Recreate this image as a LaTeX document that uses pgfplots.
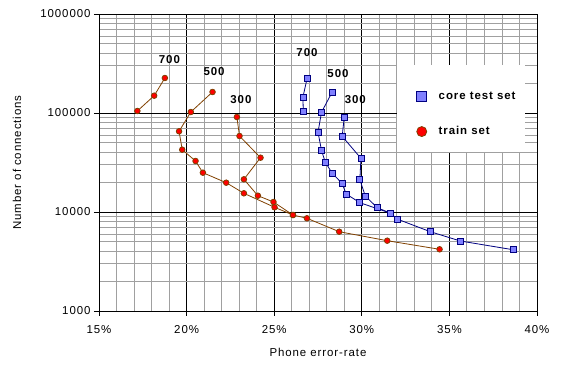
\documentclass[border=0pt]{standalone}
\usepackage{pgfplots}
\pgfplotsset{compat=1.18}
\usepackage{fontspec}
\setmainfont[LetterSpace=8]{Liberation Sans}
\definecolor{navyline}{RGB}{0,0,128}
\definecolor{bluefill}{RGB}{128,128,255}
\definecolor{brownline}{RGB}{128,64,0}
\definecolor{gridgray}{RGB}{160,160,160}
\begin{document}
\begin{tikzpicture}
\path[use as bounding box] (-99bp,-55bp) rectangle (462bp,311bp);
\begin{axis}[
 at={(0,0)}, anchor=south west,
 scale only axis, width=438bp, height=297bp,
 xmin=15, xmax=40, ymin=1000, ymax=1000000, ymode=log,
 xtick={15,20,25,30,35,40}, xticklabels={15\%,20\%,25\%,30\%,35\%,40\%},
 minor x tick num=4,
 ytick={1000,10000,100000,1000000}, yticklabels={1000,10000,100000,1000000},
 grid=both,
 major grid style={black, line width=0.8bp},
 minor grid style={gridgray, line width=0.9bp},
 axis line style={black, line width=0.8bp},
 tick align=outside, major tick length=5bp, minor tick length=0pt,
 tick style={black, line width=0.8bp},
 xtick pos=left, ytick pos=left,
 ticklabel style={font=\fontsize{11.5}{13}\selectfont},
 xticklabel style={yshift=-6bp},
 xlabel={Phone error-rate}, ylabel={Number of connections},
 label style={font=\fontsize{11.5}{13}\selectfont},
 xlabel style={at={(axis description cs:0.5,-0.138)}, anchor=center},
 ylabel style={at={(axis description cs:-0.187,0.5)}, anchor=center},
 legend style={at={(0.725,0.663)}, anchor=west, draw=none, fill=none, inner sep=0pt,
   font=\bfseries\fontsize{11.5}{13}\selectfont, row sep=22bp, column sep=10bp,
   cells={anchor=west}},
 legend image post style={mark size=5bp},
]
\fill[white] (rel axis cs:0.680,0.535) rectangle (rel axis cs:0.973,0.828);

\addlegendimage{only marks, mark=square*, mark options={fill=bluefill, draw=navyline, line width=0.8bp}}
\addlegendentry{core test set}
\addlegendimage{only marks, mark=*, mark options={fill=red, draw=brownline, line width=0.8bp}}
\addlegendentry{train set}

% train set
\addplot[forget plot, brownline, line width=0.8bp, mark=*, mark size=2.8bp,
  mark options={fill=red, draw=brownline, solid}] coordinates {
 (18.76,225700) (18.15,149600) (17.19,104800)};
\addplot[forget plot, brownline, line width=0.8bp, mark=*, mark size=2.8bp,
  mark options={fill=red, draw=brownline, solid}] coordinates {
 (21.48,163000) (20.24,102300) (19.57,65350) (19.75,42600) (20.51,32750)
 (20.93,24950) (22.26,19770) (23.27,15450) (25.02,11160) (26.07,9326)};
\addplot[forget plot, brownline, line width=0.8bp, mark=*, mark size=2.8bp,
  mark options={fill=red, draw=brownline, solid}] coordinates {
 (22.87,91100) (23.02,58560) (24.22,35360) (23.27,21390) (24.07,14610)
 (24.96,12620) (26.07,9326) (26.87,8640) (28.71,6324) (31.45,5130) (34.44,4200)};

% core test set
\addplot[forget plot, navyline, line width=0.8bp, mark=square*, mark size=3bp,
  mark options={fill=bluefill, draw=navyline, solid}] coordinates {
 (26.88,224100) (26.64,145000) (26.66,103100)};
\addplot[forget plot, navyline, line width=0.8bp, mark=square*, mark size=3bp,
  mark options={fill=bluefill, draw=navyline, solid}] coordinates {
 (28.30,161900) (27.70,101600) (27.50,63850) (27.70,42010) (27.91,32000)
 (28.30,24770) (28.87,19490) (29.11,15200) (29.89,12410) (31.66,9703)};
\addplot[forget plot, navyline, line width=0.8bp, mark=square*, mark size=3bp,
  mark options={fill=bluefill, draw=navyline, solid}] coordinates {
 (29.00,90500) (28.88,58150) (29.95,34860) (29.89,21200) (30.20,14510)
 (30.88,11050) (31.66,9703) (32.01,8500) (33.91,6324) (35.62,5095) (38.63,4160)};

\begin{scope}[every node/.style={font=\bfseries\fontsize{11.5}{13}\selectfont, anchor=center}]
\node at (axis cs:19.02,342800) {700};
\node at (axis cs:21.57,259400) {500};
\node at (axis cs:23.10,135300) {300};
\node at (axis cs:26.87,406500) {700};
\node at (axis cs:28.64,247700) {500};
\node at (axis cs:29.63,137400) {300};
\end{scope}
\end{axis}
\end{tikzpicture}
\end{document}
